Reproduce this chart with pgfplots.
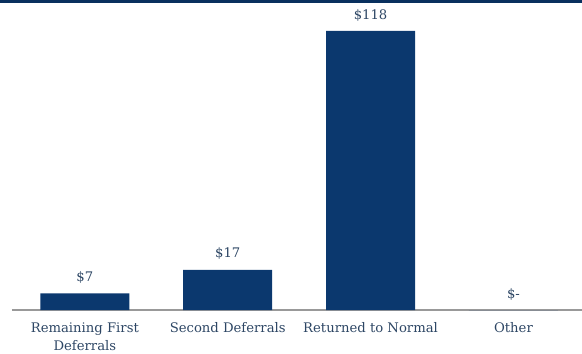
\documentclass[border=0pt]{standalone}
\usepackage{pgfplots}
\pgfplotsset{compat=1.18}
\usepackage{fontspec}
\setmainfont{DejaVu Serif}
\definecolor{navy}{RGB}{11,56,110}
\definecolor{txt}{RGB}{45,70,100}
\begin{document}
\begin{tikzpicture}
\useasboundingbox (-12pt,-44pt) rectangle (570pt,310pt);
\fill[navy!85!black] (-12pt,306.5pt) rectangle (570pt,310pt);
\begin{axis}[
  scale only axis,
  width=570pt, height=310pt,
  xmin=-0.51, xmax=3.48,
  ymin=0, ymax=131.1,
  axis y line=none,
  axis x line*=bottom,
  x axis line style={draw=gray!80, line width=1.2pt, -},
  xtick=data,
  xticklabels={},
  extra x ticks={0,1,2,3},
  extra x tick labels={Remaining First\\Deferrals,Second Deferrals,Returned to Normal,Other},
  extra x tick style={tick style={draw=none}},
  xticklabel style={align=center, font=\fontsize{13.2}{18}\selectfont, text=txt, yshift=-9pt},
  major tick length=0pt,
  ybar, bar width=89pt,
  nodes near coords,
  point meta=explicit symbolic,
  every node near coord/.append style={font=\fontsize{13.2}{15}\selectfont, text=txt, yshift=6.5pt},
]
\addplot[fill=navy, draw=none] coordinates {(0,7) [\$7] (1,17) [\$17] (2,118) [\$118] (3,0) [\$-]};
\end{axis}
\end{tikzpicture}
\end{document}
